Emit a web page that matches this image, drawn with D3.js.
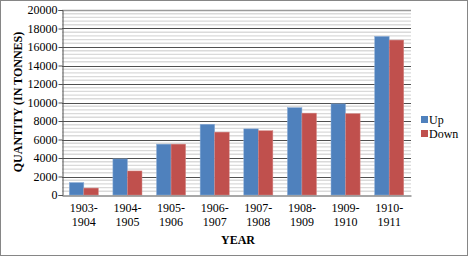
<!DOCTYPE html>
<html>
<head>
<meta charset="utf-8">
<script src="https://cdn.jsdelivr.net/npm/d3@7"></script>
<style>
  body { margin: 0; background: #fff; }
  svg text { font-family: "Liberation Serif", "Times New Roman", serif; fill: #000; }
</style>
</head>
<body>
<svg id="chart" width="469" height="256"></svg>
<script>
// chart data
var years = ["1903-1904", "1904-1905", "1905-1906", "1906-1907", "1907-1908", "1908-1909", "1909-1910", "1910-1911"];
var up = [1350, 3900, 5500, 7650, 7150, 9450, 9850, 17150];
var down = [750, 2600, 5500, 6800, 6950, 8850, 8800, 16750];
var seriesNames = ["Up", "Down"];
var yTicks = [0, 2000, 4000, 6000, 8000, 10000, 12000, 14000, 16000, 18000, 20000];

var colors = ["#4F81BD", "#C0504D"],
    margin = {top: 10, left: 62, right: 58, bottom: 61},
    width = 469, height = 256;

var svg = d3.select("#chart");

// outer frame
svg.append("rect")
    .attr("x", 0.5).attr("y", 0.5)
    .attr("width", width - 2).attr("height", height - 1)
    .attr("fill", "#fff").attr("stroke", "#868686");

var x = d3.scaleBand()
    .domain(years)
    .range([margin.left, width - margin.right]);

var y = d3.scaleLinear()
    .domain([0, 20000])
    .range([height - margin.bottom, margin.top]);

var bw = x.bandwidth() / 3;

// light stripes every 400
var minor = d3.range(400, 20000, 400).filter(d => d % 2000 !== 0);
svg.append("g").selectAll("line")
    .data(minor)
    .enter().append("line")
    .attr("x1", margin.left).attr("x2", width - margin.right)
    .attr("y1", d => y(d)).attr("y2", d => y(d))
    .attr("stroke", "#dadada")
    .attr("stroke-width", 1.4);

// major gridlines
svg.append("g").selectAll("line")
    .data(yTicks.slice(1))
    .enter().append("line")
    .attr("x1", margin.left).attr("x2", width - margin.right)
    .attr("y1", d => Math.round(y(d)) + 0.5).attr("y2", d => Math.round(y(d)) + 0.5)
    .attr("stroke", d => d === 20000 ? "#9a9a9a" : "#505050")
    .attr("stroke-width", d => d === 20000 ? 1.5 : 1);

// bars
var groups = [up, down];
groups.forEach(function (vals, s) {
    svg.append("g").selectAll("rect")
        .data(vals)
        .enter().append("rect")
        .attr("x", (d, i) => x(years[i]) + bw / 2 + s * bw)
        .attr("y", d => y(d))
        .attr("width", bw)
        .attr("height", d => y(0) - y(d))
        .attr("fill", colors[s])
        .attr("stroke", s ? "#d38a88" : "#8fb0d8")
        .attr("stroke-width", 0.5);
});

// y axis
var yAxis = svg.append("g")
    .attr("transform", `translate(${margin.left + 0.5},0)`)
    .call(d3.axisLeft(y).tickValues(yTicks).tickSize(4).tickPadding(1).tickFormat(d3.format("d")));
yAxis.select(".domain").attr("stroke", "#505050");
yAxis.selectAll(".tick line").attr("stroke", "#505050");
yAxis.selectAll("text").style("font-size", "12px");

// x axis
var xAxis = svg.append("g")
    .attr("transform", `translate(0,${Math.round(y(0)) + 0.5})`)
    .call(d3.axisBottom(x).tickSize(0).tickFormat(""));
xAxis.select(".domain").attr("stroke", "#505050");
xAxis.selectAll(".tick").each(function (d) {
    var parts = d.split("-");
    var t = d3.select(this).append("text")
        .style("font-size", "12px")
        .attr("text-anchor", "middle");
    t.append("tspan").attr("x", 0).attr("y", 16).text(parts[0] + "-");
    t.append("tspan").attr("x", 0).attr("y", 30).text(parts[1]);
});

// axis titles
svg.append("text")
    .attr("transform", "translate(22,102) rotate(-90)")
    .attr("text-anchor", "middle")
    .style("font-size", "12px").style("font-weight", "bold")
    .text("QUANTITY (IN TONNES)");

svg.append("text")
    .attr("x", 238).attr("y", 244)
    .attr("text-anchor", "middle")
    .style("font-size", "12px").style("font-weight", "bold")
    .text("YEAR");

// legend
var legend = svg.append("g").selectAll("g")
    .data(seriesNames)
    .enter().append("g")
    .attr("transform", (d, i) => `translate(421,${116 + i * 14})`);
legend.append("rect")
    .attr("width", 7).attr("height", 7)
    .attr("fill", (d, i) => colors[i]);
legend.append("text")
    .attr("x", 8).attr("y", 8)
    .style("font-size", "12px")
    .text(d => d);
</script>
</body>
</html>
